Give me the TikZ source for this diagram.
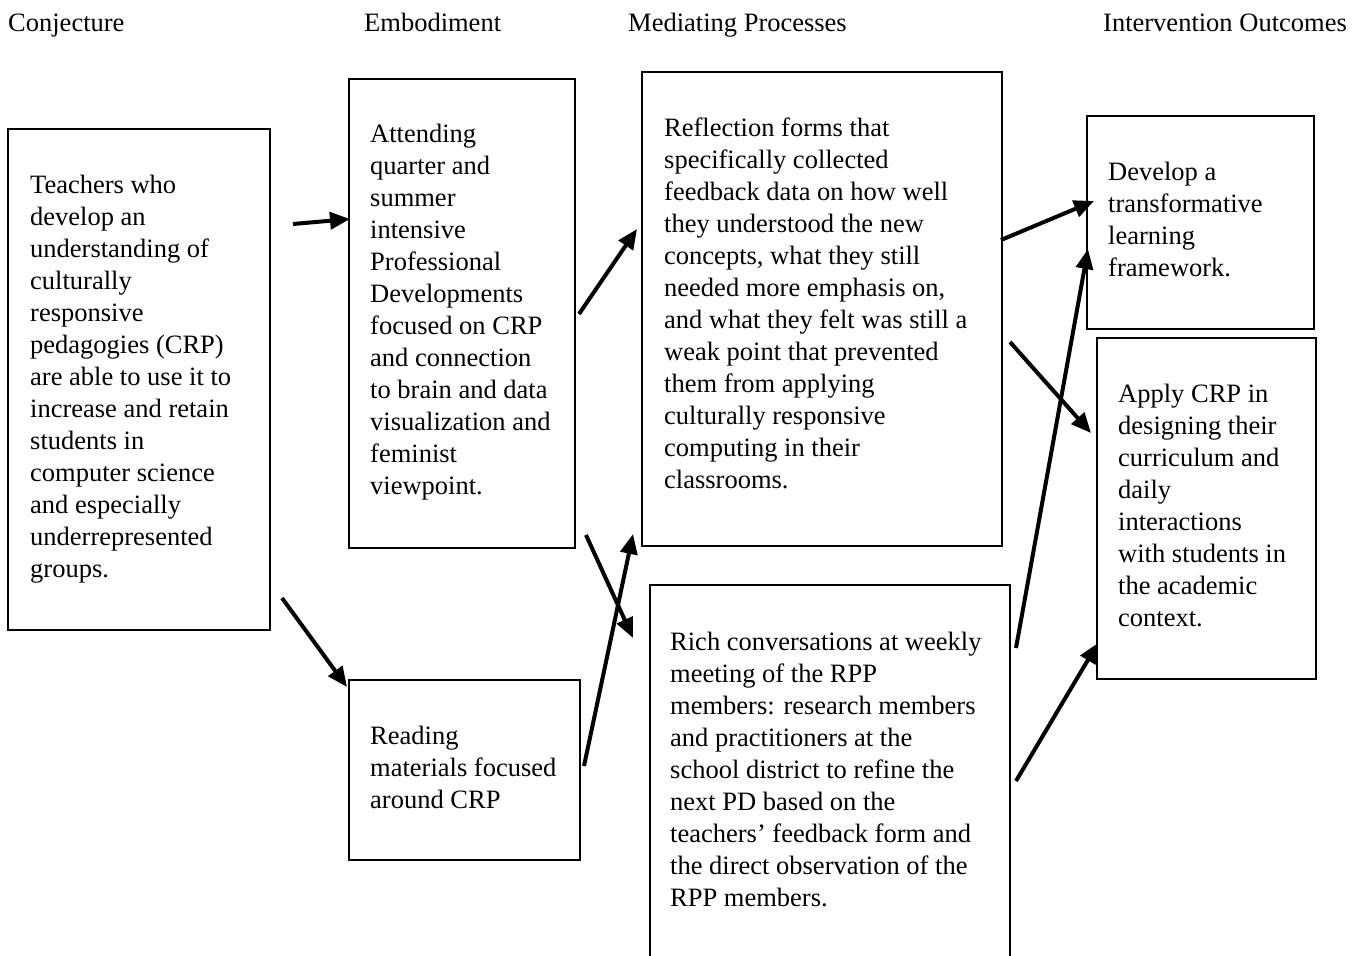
\documentclass[tikz,border=0pt]{standalone}
\usepackage{fontspec}
\setmainfont{Liberation Serif}
\usetikzlibrary{arrows.meta}
\tikzset{
  box/.style={draw, line width=2pt, anchor=north west, inner sep=0pt, outer sep=0pt},
  txt/.style={anchor=north west, inner sep=0pt, align=left, font=\fontsize{26.5}{32}\selectfont},
  hdr/.style={anchor=base west, inner sep=0pt, font=\fontsize{26.5}{32}\selectfont},
  arr/.style={line width=4pt, -{Triangle[length=20pt,width=17pt]}}
}
\begin{document}
\begin{tikzpicture}[x=1pt,y=-1pt]
\useasboundingbox (0,0) rectangle (1358,956);
\clip (0,0) rectangle (1358,956);
% headers
\node[hdr] (h1) at (8,31) {Conjecture};
\node[hdr] (h2) at (364,31) {Embodiment};
\node[hdr] (h3) at (628,31) {Mediating Processes};
\node[hdr] (h4) at (1103,31) {Intervention Outcomes};
% boxes
\node[box, minimum width=262, minimum height=501] (b1) at (8,129) {};
\node[box, minimum width=226, minimum height=469] (b2) at (349,79) {};
\node[box, minimum width=231, minimum height=180] (b3) at (349,680) {};
\node[box, minimum width=360, minimum height=474] (b4) at (642,72) {};
\node[box, minimum width=360, minimum height=420] (b5) at (650,585) {};
\node[box, minimum width=227, minimum height=213] (b6) at (1087,116) {};
\node[box, minimum width=219, minimum height=341] (b7) at (1097,338) {};
% texts
\node[txt] (t1) at (30,171) {\strut Teachers who\\ develop an\\ understanding of\\ culturally\\ responsive\\ pedagogies (CRP)\\ are able to use it to\\ increase and retain\\ students in\\ computer science\\ and especially\\ underrepresented\\ groups.};
\node[txt] (t2) at (370,120) {\strut Attending\\ quarter and\\ summer\\ intensive\\ Professional\\ Developments\\ focused on CRP\\ and connection\\ to brain and data\\ visualization and\\ feminist\\ viewpoint.};
\node[txt] (t3) at (370,722) {\strut Reading\\ materials focused\\ around CRP};
\node[txt] (t4) at (664,114) {\strut Reflection forms that\\ specifically collected\\ feedback data on how well\\ they understood the new\\ concepts, what they still\\ needed more emphasis on,\\ and what they felt was still a\\ weak point that prevented\\ them from applying\\ culturally responsive\\ computing in their\\ classrooms.};
\node[txt] (t5) at (670,628) {\strut Rich conversations at weekly\\ meeting of the RPP\\ members: research members\\ and practitioners at the\\ school district to refine the\\ next PD based on the\\ teachers’ feedback form and\\ the direct observation of the\\ RPP members.};
\node[txt] (t6) at (1108,158) {\strut Develop a\\ transformative\\ learning\\ framework.};
\node[txt] (t7) at (1118,380) {\strut Apply CRP in\\ designing their\\ curriculum and\\ daily\\ interactions\\ with students in\\ the academic\\ context.};
% arrow endpoints
\coordinate (a1s) at (293,224); \coordinate (a1e) at (350,219);
\coordinate (a2s) at (282,598); \coordinate (a2e) at (347,687);
\coordinate (a3s) at (579,314); \coordinate (a3e) at (637,229);
\coordinate (a4s) at (586,535); \coordinate (a4e) at (633,638);
\coordinate (a5s) at (584,766); \coordinate (a5e) at (633,534);
\coordinate (a6s) at (1001,240); \coordinate (a6e) at (1094,201);
\coordinate (a7s) at (1010,342); \coordinate (a7e) at (1091,433);
\coordinate (a8s) at (1016,648); \coordinate (a8e) at (1088,249);
\coordinate (a9s) at (1016,781); \coordinate (a9e) at (1098,643);
\draw[arr] (a1s) -- (a1e);
\draw[arr] (a2s) -- (a2e);
\draw[arr] (a3s) -- (a3e);
\draw[arr] (a4s) -- (a4e);
\draw[arr] (a5s) -- (a5e);
\draw[arr] (a6s) -- (a6e);
\draw[arr] (a7s) -- (a7e);
\draw[arr] (a8s) -- (a8e);
\draw[arr] (a9s) -- (a9e);
\end{tikzpicture}
\end{document}
